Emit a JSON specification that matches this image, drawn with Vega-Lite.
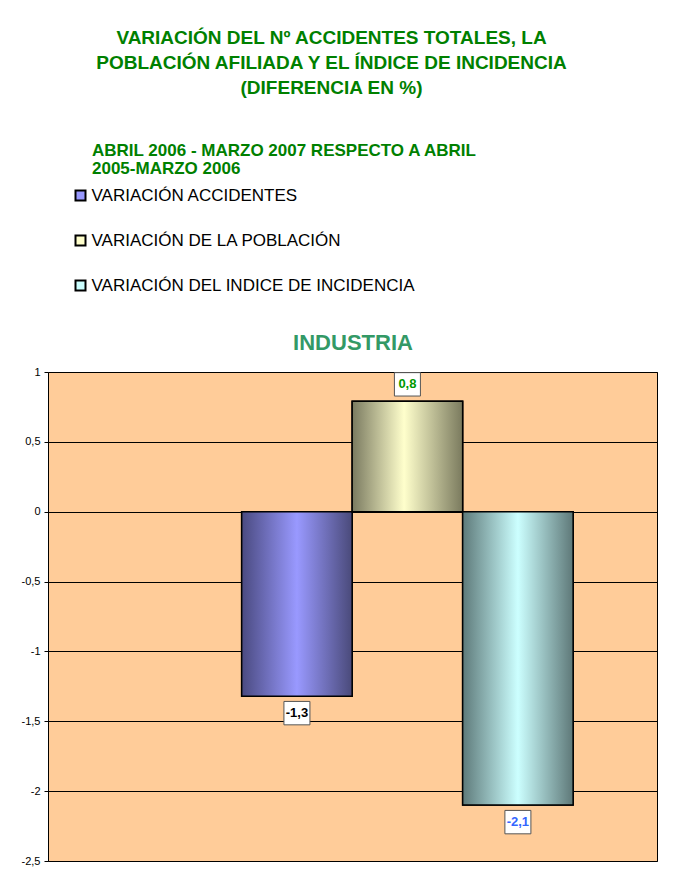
{
  "$schema": "https://vega.github.io/schema/vega-lite/v6.json",
  "width": 609,
  "height": 489,
  "autosize": {"type": "none"},
  "padding": {"left": 48, "top": 372, "right": 19, "bottom": 14},
  "background": "white",
  "title": {
    "text": ["VARIACIÓN DEL Nº ACCIDENTES TOTALES, LA", "POBLACIÓN AFILIADA Y EL ÍNDICE DE INCIDENCIA", "(DIFERENCIA EN %)"],
    "anchor": "middle",
    "dx": -21,
    "offset": 45,
    "font": "Liberation Sans",
    "fontSize": 19,
    "fontWeight": "bold",
    "color": "#008000",
    "lineHeight": 25
  },
  "data": {
    "values": [
      {"series": "VARIACIÓN ACCIDENTES", "value": -1.32},
      {"series": "VARIACIÓN DE LA POBLACIÓN", "value": 0.79},
      {"series": "VARIACIÓN DEL INDICE DE INCIDENCIA", "value": -2.1}
    ]
  },
  "encoding": {
    "x": {
      "field": "series",
      "type": "nominal",
      "sort": null,
      "scale": {
        "domain": [" ", "VARIACIÓN ACCIDENTES", "VARIACIÓN DE LA POBLACIÓN", "VARIACIÓN DEL INDICE DE INCIDENCIA"],
        "paddingInner": 0,
        "paddingOuter": 0.756,
        "align": 0.498
      },
      "axis": {
        "orient": "top",
        "title": "INDUSTRIA",
        "labels": false,
        "ticks": false,
        "domain": false,
        "grid": false,
        "titleFont": "Liberation Sans",
        "titleFontSize": 22,
        "titleFontWeight": "bold",
        "titleColor": "#339966",
        "titlePadding": 18
      }
    },
    "y": {
      "field": "value",
      "type": "quantitative",
      "scale": {"domain": [-2.5, 1], "nice": false, "zero": false},
      "axis": {
        "title": null,
        "values": [1, 0.5, 0, -0.5, -1, -1.5, -2, -2.5],
        "format": ".2~f",
        "domain": false,
        "ticks": true,
        "tickSize": 4,
        "tickColor": "#000000",
        "labelFont": "Liberation Sans",
        "labelFontSize": 11,
        "labelColor": "#000000",
        "labelPadding": 4,
        "grid": true,
        "gridColor": "#000000",
        "gridOpacity": 1,
        "gridWidth": 1
      }
    }
  },
  "layer": [
    {
      "mark": {"type": "bar", "stroke": "#000000", "strokeWidth": 1.5},
      "encoding": {
        "color": {
          "field": "series",
          "type": "nominal",
          "sort": null,
          "scale": {
            "domain": ["VARIACIÓN ACCIDENTES", "VARIACIÓN DE LA POBLACIÓN", "VARIACIÓN DEL INDICE DE INCIDENCIA"],
            "range": ["#9999FF", "#FFFFCC", "#CCFFFF"]
          },
          "legend": {
            "orient": "none",
            "legendX": 44,
            "legendY": -229,
            "title": ["ABRIL 2006 - MARZO 2007 RESPECTO A ABRIL", "2005-MARZO 2006"],
            "titleFont": "Liberation Sans",
            "titleFontSize": 17,
            "titleFontWeight": "bold",
            "titleColor": "#008000",
            "titleLineHeight": 18,
            "titlePadding": 9,
            "titleLimit": 700,
            "symbolType": "square",
            "symbolSize": 100,
            "symbolStrokeColor": "#000000",
            "symbolStrokeWidth": 2,
            "symbolOpacity": 1,
            "symbolOffset": -20,
            "labelOffset": 2.5,
            "labelFont": "Liberation Sans",
            "labelFontSize": 17,
            "labelColor": "#000000",
            "labelLimit": 700,
            "rowPadding": 26
          }
        }
      }
    },
    {
      "transform": [{"filter": "datum.series == 'VARIACIÓN ACCIDENTES'"}],
      "mark": {
        "type": "bar",
        "stroke": "#000000",
        "strokeWidth": 1.5,
        "fill": {"gradient": "linear", "x1": 0, "y1": 0, "x2": 1, "y2": 0,
          "stops": [{"offset": 0, "color": "#4A4A80"}, {"offset": 0.5, "color": "#9999FF"}, {"offset": 1, "color": "#4A4A7A"}]}
      }
    },
    {
      "transform": [{"filter": "datum.series == 'VARIACIÓN DE LA POBLACIÓN'"}],
      "mark": {
        "type": "bar",
        "stroke": "#000000",
        "strokeWidth": 1.5,
        "fill": {"gradient": "linear", "x1": 0, "y1": 0, "x2": 1, "y2": 0,
          "stops": [{"offset": 0, "color": "#7A7A60"}, {"offset": 0.47, "color": "#FFFFCC"}, {"offset": 1, "color": "#7A7A5E"}]}
      }
    },
    {
      "transform": [{"filter": "datum.series == 'VARIACIÓN DEL INDICE DE INCIDENCIA'"}],
      "mark": {
        "type": "bar",
        "stroke": "#000000",
        "strokeWidth": 1.5,
        "fill": {"gradient": "linear", "x1": 0, "y1": 0, "x2": 1, "y2": 0,
          "stops": [{"offset": 0, "color": "#5E7A7A"}, {"offset": 0.5, "color": "#CCFFFF"}, {"offset": 1, "color": "#5E7878"}]}
      }
    },
    {
      "mark": {
        "type": "point",
        "shape": "M-1,-0.9H1V0.9H-1Z",
        "size": 676,
        "filled": true,
        "fill": "#FFFFFF",
        "stroke": "#555555",
        "strokeWidth": 1,
        "opacity": 1,
        "yOffset": {"expr": "datum.value > 0 ? -17 : 17"}
      }
    },
    {
      "mark": {
        "type": "text",
        "font": "Liberation Sans",
        "fontSize": 13,
        "fontWeight": "bold",
        "align": "center",
        "baseline": "middle",
        "yOffset": {"expr": "datum.value > 0 ? -17 : 17"}
      },
      "encoding": {
        "text": {"field": "value", "type": "quantitative", "format": ".1f"},
        "fill": {
          "field": "series",
          "type": "nominal",
          "sort": null,
          "scale": {
            "domain": ["VARIACIÓN ACCIDENTES", "VARIACIÓN DE LA POBLACIÓN", "VARIACIÓN DEL INDICE DE INCIDENCIA"],
            "range": ["#000000", "#009900", "#3366FF"]
          },
          "legend": null
        }
      }
    }
  ],
  "config": {
    "locale": {"number": {"decimal": ",", "thousands": ".", "grouping": [3], "currency": ["", " €"], "minus": "-"}},
    "view": {"fill": "#FFCC99", "stroke": "#000000", "strokeWidth": 1}
  }
}
